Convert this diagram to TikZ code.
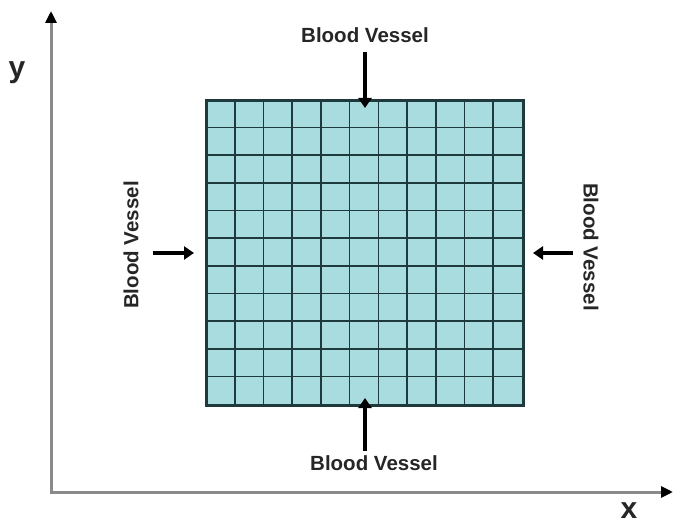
\documentclass[tikz,border=0pt]{standalone}
\usepackage{fontspec}
\setmainfont{Liberation Sans}
\usetikzlibrary{arrows.meta,calc}
\definecolor{tissuefill}{HTML}{A8DCDF}
\definecolor{gridcol}{HTML}{1E3A3C}
\definecolor{axiscol}{HTML}{8A8A8A}
\tikzset{
  lbl/.style={font=\bfseries\fontsize{20.5}{24}\selectfont, inner sep=0pt, text=black!85},
  axlbl/.style={font=\bfseries\fontsize{30}{36}\selectfont, inner sep=0pt, text=black!85},
  axisline/.style={draw=axiscol, line width=3pt, -{Triangle[color=black, length=12pt, width=11pt]}},
  vessel/.style={draw=black, line width=4pt, -{Triangle[length=10pt, width=13pt]}},
  gridline/.style={draw=gridcol, line width=1.6pt},
  tissuebox/.style={draw=gridcol, line width=2pt, fill=tissuefill, minimum width=316pt, minimum height=304pt, inner sep=0pt}
}
\begin{document}
\begin{tikzpicture}[x=1pt, y=-1pt]
\useasboundingbox (0,0) rectangle (673,524);
% axes
\coordinate (origin) at (51,492);
\coordinate (ytip) at (51,11);
\coordinate (xtip) at (673,492);
\draw[axisline] (origin) -- (ytip);
\draw[axisline] ([xshift=-1.5pt]origin) -- (xtip);
\node[axlbl] (ylabel) at (17,73) {y};
\node[axlbl] (xlabel) at (629,511) {x};
% tissue grid
\node[tissuebox] (tissue) at (365,253) {};
\foreach \i in {1,...,10} {
  \draw[gridline] ($(tissue.north west)+(\i*28.727,0)$) -- ($(tissue.south west)+(\i*28.727,0)$);
  \draw[gridline] ($(tissue.north west)+(0,\i*27.636)$) -- ($(tissue.north east)+(0,\i*27.636)$);
}
\draw[draw=gridcol, line width=2pt] (tissue.north west) rectangle (tissue.south east);
% labels
\node[lbl] (ltop) at (365,35) {Blood Vessel};
\node[lbl] (lbottom) at (374,463) {Blood Vessel};
\node[lbl, rotate=90] (lleft) at (131,245) {Blood Vessel};
\node[lbl, rotate=-90] (lright) at (591,247) {Blood Vessel};
% arrows
\coordinate (atop) at (365,52);
\coordinate (abottom) at (365,451);
\coordinate (aleft) at (153,253);
\coordinate (aright) at (573,253);
\draw[vessel] (atop) -- ([yshift=-8pt]tissue.north);
\draw[vessel] (abottom) -- ([yshift=8pt]tissue.south);
\draw[vessel] (aleft) -- ([xshift=-12pt]tissue.west);
\draw[vessel] (aright) -- ([xshift=9pt]tissue.east);
\end{tikzpicture}
\end{document}
